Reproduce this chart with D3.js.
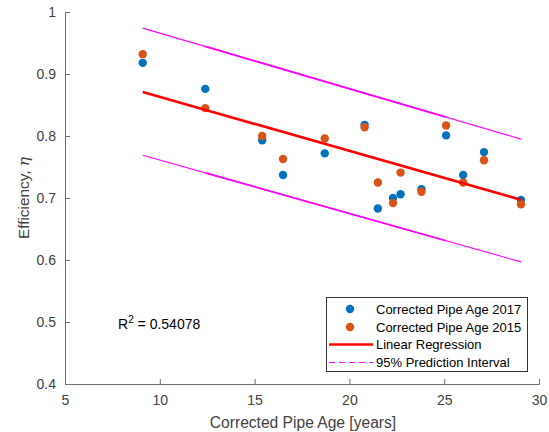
<!DOCTYPE html>
<html>
<head>
<meta charset="utf-8">
<script src="https://cdn.jsdelivr.net/npm/d3@7"></script>
<style>
  body { margin: 0; background: #fff; }
  text { font-family: "Liberation Sans", Arial, sans-serif; }
</style>
</head>
<body>
<svg id="chart" width="549" height="432"></svg>
<script>
// pipe age (years) and measured efficiency
var pipeAge = [9.1, 12.4, 15.4, 16.5, 18.7, 20.8, 21.5, 22.3, 22.7, 23.8, 25.1, 26.0, 27.1, 29.05];
var eff2017 = [0.918, 0.876, 0.793, 0.737, 0.772, 0.818, 0.683, 0.700, 0.706, 0.714, 0.801, 0.737, 0.774, 0.697];
var eff2015 = [0.932, 0.845, 0.800, 0.763, 0.796, 0.814, 0.725, 0.692, 0.741, 0.710, 0.817, 0.725, 0.761, 0.690];

// fitted line and prediction bounds, read at the ends of the data range
var fitAge = [9.1, 29.05];
var fitEff = [0.871, 0.697];
var piUpper = [0.974, 0.795];
var piLower = [0.769, 0.597];

var xTicks = [5, 10, 15, 20, 25, 30];
var yTicks = [0.4, 0.5, 0.6, 0.7, 0.8, 0.9, 1];
var rSquared = '0.54078';

var legendItems = [
    {label: 'Corrected Pipe Age 2017', type: 'dot', color: '#0072BD'},
    {label: 'Corrected Pipe Age 2015', type: 'dot', color: '#D95319'},
    {label: 'Linear Regression', type: 'line', color: '#FF0000'},
    {label: '95% Prediction Interval', type: 'dash', color: '#FF00FF'}
];

var svg = d3.select('#chart');
// plot box (note: "top" is reserved on window, so use other names)
var plotLeft = 65, plotRight = 539, plotTop = 12, plotBottom = 384;

var x = d3.scaleLinear().domain([5, 30]).range([plotLeft, plotRight]);
var y = d3.scaleLinear().domain([0.4, 1]).range([plotBottom, plotTop]);

var axisColor = '#6e6e6e';
var textColor = '#404040';

// axes (box off, ticks pointing inward)
var xAxis = svg.append('g').attr('transform', 'translate(0,' + plotBottom + ')')
    .call(d3.axisBottom(x).tickValues(xTicks).tickSize(-5).tickPadding(11).tickFormat(d3.format('d')));
var yAxis = svg.append('g').attr('transform', 'translate(' + plotLeft + ',0)')
    .call(d3.axisLeft(y).tickValues(yTicks).tickSize(-5).tickPadding(9).tickFormat(function (d) { return d === 1 ? '1' : d3.format('.1f')(d); }));

[xAxis, yAxis].forEach(function (g) {
    g.select('.domain').attr('stroke', axisColor);
    g.selectAll('.tick line').attr('stroke', axisColor);
    g.selectAll('.tick text').attr('fill', textColor).style('font-size', '14px')
        .style('font-family', '"Liberation Sans", Arial, sans-serif');
});

// prediction interval lines
var fitPts = fitAge.map(function (a, i) { return {a: a, u: piUpper[i], l: piLower[i], f: fitEff[i]}; });
var lineU = d3.line().x(function (d) { return x(d.a); }).y(function (d) { return y(d.u); });
var lineL = d3.line().x(function (d) { return x(d.a); }).y(function (d) { return y(d.l); });
var lineF = d3.line().x(function (d) { return x(d.a); }).y(function (d) { return y(d.f); });

[lineU, lineL].forEach(function (ln) {
    svg.append('path').datum(fitPts).attr('d', ln)
        .attr('fill', 'none').attr('stroke', '#FF00FF').attr('stroke-width', 1.1);
});

// the overlapping dashed segments look heavier in the middle of the range
var interp = function (arr, a) {
    var t = (a - fitAge[0]) / (fitAge[1] - fitAge[0]);
    return arr[0] + t * (arr[1] - arr[0]);
};
var heavy = [pipeAge[1], pipeAge[10]].map(function (a) {
    return {a: a, u: interp(piUpper, a), l: interp(piLower, a)};
});
[lineU, lineL].forEach(function (ln) {
    svg.append('path').datum(heavy).attr('d', ln)
        .attr('fill', 'none').attr('stroke', '#FF00FF').attr('stroke-width', 1.8);
});

// scatter
svg.append('g').selectAll('circle').data(pipeAge).join('circle')
    .attr('cx', function (d) { return x(d); })
    .attr('cy', function (d, i) { return y(eff2017[i]); })
    .attr('r', 4.2).attr('fill', '#0072BD');
svg.append('g').selectAll('circle').data(pipeAge).join('circle')
    .attr('cx', function (d) { return x(d); })
    .attr('cy', function (d, i) { return y(eff2015[i]); })
    .attr('r', 4.2).attr('fill', '#D95319');

// regression line
svg.append('path').datum(fitPts).attr('d', lineF)
    .attr('fill', 'none').attr('stroke', '#FF0000').attr('stroke-width', 2.6);

// axis labels
svg.append('text').attr('x', 303).attr('y', 428)
    .attr('text-anchor', 'middle').attr('fill', textColor).style('font-size', '15.6px')
    .text('Corrected Pipe Age [years]');

var yl = svg.append('text').attr('transform', 'translate(29,' + ((plotTop + plotBottom) / 2) + ') rotate(-90)')
    .attr('text-anchor', 'middle').attr('fill', textColor).style('font-size', '15.4px');
yl.append('tspan').text('Efficiency, ');
yl.append('tspan').style('font-family', '"DejaVu Serif", serif').style('font-style', 'italic').text('η');

// R squared annotation
var rt = svg.append('text').attr('x', 118).attr('y', 329).attr('fill', '#000').style('font-size', '14px');
rt.append('tspan').text('R');
rt.append('tspan').attr('dy', -6).style('font-size', '10px').text('2');
rt.append('tspan').attr('dy', 6).text(' = ' + rSquared);

// legend
var lg = svg.append('g');
lg.append('rect').attr('x', 326.5).attr('y', 297.5).attr('width', 201).attr('height', 74)
    .attr('fill', '#fff').attr('stroke', '#333').attr('stroke-width', 1);
legendItems.forEach(function (it, i) {
    var cy = Math.round(309 + i * 17.5);
    if (it.type === 'dot') {
        lg.append('circle').attr('cx', 350).attr('cy', cy).attr('r', 4.2).attr('fill', it.color);
    } else {
        lg.append('line').attr('x1', 329).attr('x2', 373).attr('y1', cy + 0.5).attr('y2', cy + 0.5)
            .style('stroke', it.color).attr('stroke-width', it.type === 'line' ? 2.6 : 1.2)
            .attr('stroke-dasharray', it.type === 'dash' ? '6,4' : null);
    }
    lg.append('text').attr('x', 376).attr('y', cy + 4.7).attr('fill', '#000')
        .style('font-size', '13px').text(it.label);
});
</script>
</body>
</html>
